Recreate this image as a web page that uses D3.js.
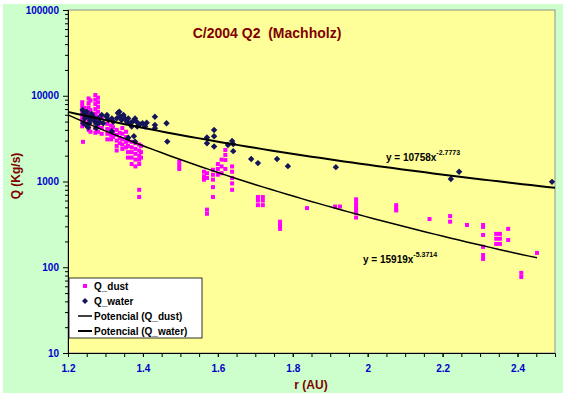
<!DOCTYPE html>
<html>
<head>
<meta charset="utf-8">
<script src="https://cdn.jsdelivr.net/npm/d3@7"></script>
<style>
  body { margin: 0; background: #fff; }
  text { font-family: "Liberation Sans", Arial, sans-serif; font-weight: bold; white-space: pre; }
</style>
</head>
<body>
<script>
// data: [r (AU), Q (Kg/s)]
var dust = [
  [1.238,8400],[1.238,7600],[1.238,6800],[1.238,6100],[1.238,5500],[1.238,4900],[1.238,4400],[1.24,2900],
  [1.244,7200],[1.244,6000],[1.244,5000],
  [1.255,9300],[1.255,8200],[1.255,7300],[1.255,6400],[1.255,5700],[1.255,5000],[1.255,4500],[1.255,4000],
  [1.26,8800],[1.26,6800],[1.26,5300],[1.26,3800],
  [1.273,10200],[1.273,9000],[1.273,8000],[1.273,7000],[1.273,6200],[1.273,5500],[1.273,4800],[1.273,4200],[1.273,3700],
  [1.28,9500],[1.28,8400],[1.28,7400],[1.28,6500],[1.28,5700],[1.28,5000],[1.28,4400],[1.28,3800],
  [1.29,5500],[1.29,4800],[1.29,4200],[1.29,3600],
  [1.305,4700],[1.305,4100],[1.305,3600],[1.305,3100],
  [1.315,4500],[1.315,4000],[1.315,3500],[1.315,3100],
  [1.32,4300],[1.32,3800],[1.32,3300],
  [1.33,4000],[1.33,3500],[1.33,3000],[1.33,2600],[1.33,2300],
  [1.338,3700],[1.338,3200],[1.338,2800],
  [1.345,4200],[1.345,3600],[1.345,3100],[1.345,2700],[1.345,2400],
  [1.355,3800],[1.355,3300],[1.355,2900],[1.355,2500],
  [1.36,3000],[1.36,2600],[1.36,2200],[1.36,1900],
  [1.37,2900],[1.37,2500],[1.37,2200],[1.37,1900],[1.37,1600],
  [1.38,2800],[1.38,2400],[1.38,2100],[1.38,1800],[1.38,1500],
  [1.39,2700],[1.39,2300],[1.39,2000],[1.39,1800],[1.39,1600],[1.39,800],[1.39,660],
  [1.395,2600],[1.395,2200],[1.395,1900],
  [1.497,1700],[1.497,1550],[1.497,1400],
  [1.563,1300],[1.563,1150],[1.563,1050],
  [1.571,1250],[1.571,1100],[1.571,470],[1.571,420],
  [1.587,1370],[1.587,1200],[1.587,1050],[1.587,860],[1.587,660],
  [1.60,1600],[1.60,1400],[1.60,1200],
  [1.61,1800],[1.61,1500],[1.61,1250],
  [1.62,2330],[1.62,2040],[1.62,1780],[1.62,1400],
  [1.638,1500],[1.638,1300],[1.638,1100],[1.638,950],[1.638,800],
  [1.707,660],[1.707,600],[1.707,530],
  [1.72,660],[1.72,600],[1.72,530],
  [1.766,340],[1.766,310],[1.766,280],
  [1.838,490],[1.913,510],[1.926,510],
  [1.969,620],[1.969,560],[1.969,510],[1.969,470],[1.969,430],[1.969,380],
  [2.076,530],[2.076,490],[2.076,460],
  [2.165,365],[2.22,395],[2.22,340],[2.265,311],
  [2.308,311],[2.308,295],[2.308,238],[2.308,173],[2.308,139],[2.308,125],
  [2.343,245],[2.343,215],[2.343,187],
  [2.353,245],[2.353,215],[2.353,187],
  [2.375,280],[2.375,208],
  [2.41,86],[2.41,77],[2.452,147]
];

var water = [
  [1.239,6820],[1.241,6150],[1.245,5440],[1.25,6500],[1.254,5680],[1.259,5210],[1.263,6150],
  [1.268,5680],[1.272,4980],[1.275,4190],[1.254,4260],[1.241,4770],[1.248,4560],[1.281,5440],
  [1.285,4900],[1.29,5960],[1.303,5680],[1.308,5210],[1.317,5440],[1.321,4980],[1.33,5440],
  [1.337,6500],[1.339,5680],[1.343,5210],[1.348,5960],[1.352,5440],[1.357,4980],[1.361,5440],
  [1.366,4770],[1.37,4380],[1.374,5080],[1.379,5440],[1.383,4980],[1.385,4380],[1.392,4640],
  [1.399,4770],[1.406,4380],[1.41,4850],[1.432,5680],[1.432,4560],[1.432,4190],[1.463,4770],
  [1.465,2920],[1.361,3240],[1.376,3380],[1.379,2920],[1.317,3860],[1.294,4770],[1.277,4640],
  [1.333,6300],[1.304,5960],[1.245,6000],[1.262,5600],[1.27,5300],[1.257,4800],
  [1.59,3990],[1.59,3370],[1.571,3260],[1.571,2790],[1.59,2560],[1.627,2670],[1.638,2970],
  [1.641,2730],[1.641,2260],[1.689,1830],[1.707,1640],[1.758,1830],[1.787,1510],[1.915,1470],
  [2.222,1070],[2.244,1300],[2.492,990]
];

// power-law fits shown on the chart: y = a * x^b
var dustFit = [15919, -5.3714];
var waterFit = [10758, -2.7773];

var xTicks = [1.2, 1.4, 1.6, 1.8, 2, 2.2, 2.4];
var yTicks = [10, 100, 1000, 10000, 100000];
var legendItems = ["Q_dust", "Q_water", "Potencial (Q_dust)", "Potencial (Q_water)"];

var width = 566,
    height = 397;

var svg = d3.select("body").append("svg")
    .attr("width", width)
    .attr("height", height);

// chart area + plot area
svg.append("rect")
    .attr("x", 3).attr("y", 4)
    .attr("width", 560).attr("height", 389)
    .attr("fill", "#ccffcc");

var plotL = 68, plotR = 555, plotT = 10, plotB = 353;

svg.append("rect")
    .attr("x", plotL).attr("y", plotT)
    .attr("width", plotR - plotL).attr("height", plotB - plotT)
    .attr("fill", "#ffff99")
    .attr("stroke", "#909090");

var x = d3.scaleLinear().domain([1.2, 2.5]).range([plotL, plotR]);
var y = d3.scaleLog().domain([10, 100000]).range([plotB, plotT]);

// y axis
var yMinor = [];
for (var e = 10; e < 100000; e *= 10) {
  for (var k = 2; k < 10; k++) yMinor.push(e * k);
}
svg.append("g")
    .attr("transform", "translate(" + plotL + ",0)")
    .call(d3.axisLeft(y).tickValues(yMinor).tickSize(3).tickFormat(""))
    .call(function(g) { g.select(".domain").remove(); });

var yAxis = svg.append("g")
    .attr("transform", "translate(" + plotL + ",0)")
    .call(d3.axisLeft(y).tickValues(yTicks).tickSize(5).tickPadding(4).tickFormat(d3.format("d")));
yAxis.select(".domain").attr("stroke", "#000").attr("stroke-width", 1);
yAxis.selectAll("text").attr("fill", "#0000cc").style("font-size", "10px");

// x axis
var xMinor = d3.range(26).map(function(i) { return 1.2 + i * 0.05; });
svg.append("g")
    .attr("transform", "translate(0," + plotB + ")")
    .call(d3.axisBottom(x).tickValues(xMinor).tickSize(4).tickFormat(""))
    .call(function(g) { g.select(".domain").remove(); });

var xAxis = svg.append("g")
    .attr("transform", "translate(0," + plotB + ")")
    .call(d3.axisBottom(x).tickValues(xTicks).tickSize(4).tickPadding(8).tickFormat(d3.format("~g")));
xAxis.select(".domain").attr("stroke", "#000");
xAxis.selectAll("text").attr("fill", "#0000cc").style("font-size", "10px");

// trend lines
function fitLine(fit, r0, r1) {
  var pts = d3.range(0, 61).map(function(i) {
    var r = r0 + (r1 - r0) * i / 60;
    return [r, fit[0] * Math.pow(r, fit[1])];
  });
  return d3.line().x(function(d) { return x(d[0]); }).y(function(d) { return y(d[1]); })(pts);
}

// points
svg.append("g").selectAll("rect")
    .data(dust)
  .enter().append("rect")
    .attr("x", function(d) { return x(d[0]) - 2; })
    .attr("y", function(d) { return y(d[1]) - 2; })
    .attr("width", 4).attr("height", 4)
    .attr("fill", "#ff00ff");

svg.append("g").selectAll("path")
    .data(water)
  .enter().append("path")
    .attr("transform", function(d) { return "translate(" + x(d[0]) + "," + y(d[1]) + ")"; })
    .attr("d", "M0,-3.2L3.2,0L0,3.2L-3.2,0Z")
    .attr("fill", "#14145a");

svg.append("path")
    .attr("d", fitLine(dustFit, 1.2, 2.452))
    .attr("fill", "none").attr("stroke", "#000").attr("stroke-width", 1.5);

svg.append("path")
    .attr("d", fitLine(waterFit, 1.2, 2.5))
    .attr("fill", "none").attr("stroke", "#000").attr("stroke-width", 2);

// equations
var eq1 = svg.append("text").attr("x", 386).attr("y", 161).style("font-size", "10px").attr("fill", "#000");
eq1.append("tspan").text("y = " + waterFit[0] + "x");
eq1.append("tspan").attr("dy", -6).style("font-size", "7px").text(waterFit[1]);

var eq2 = svg.append("text").attr("x", 363).attr("y", 263).style("font-size", "10px").attr("fill", "#000");
eq2.append("tspan").text("y = " + dustFit[0] + "x");
eq2.append("tspan").attr("dy", -6).style("font-size", "7px").text(dustFit[1]);

// titles
svg.append("text")
    .attr("x", 267).attr("y", 38)
    .attr("text-anchor", "middle")
    .attr("fill", "#800000")
    .style("font-size", "14px")
    .text("C/2004 Q2  (Machholz)");

svg.append("text")
    .attr("transform", "translate(20,176) rotate(-90)")
    .attr("text-anchor", "middle")
    .attr("fill", "#800000")
    .style("font-size", "12px")
    .text("Q (Kg/s)");

svg.append("text")
    .attr("x", 311).attr("y", 389)
    .attr("text-anchor", "middle")
    .attr("fill", "#800000")
    .style("font-size", "12px")
    .text("r (AU)");

// legend
var lg = svg.append("g");
lg.append("rect")
    .attr("x", 69).attr("y", 278)
    .attr("width", 133).attr("height", 60)
    .attr("fill", "#fff").attr("stroke", "#000").attr("stroke-width", 0.8);

var row = lg.selectAll("g.item")
    .data(legendItems)
  .enter().append("g")
    .attr("class", "item")
    .attr("transform", function(d, i) { return "translate(0," + (286 + i * 15) + ")"; });

row.append("text")
    .attr("x", 94).attr("dy", "0.35em")
    .style("font-size", "10px")
    .text(function(d) { return d; });

row.filter(function(d, i) { return i === 0; }).append("rect")
    .attr("x", 83).attr("y", -2).attr("width", 4).attr("height", 4).attr("fill", "#ff00ff");
row.filter(function(d, i) { return i === 1; }).append("path")
    .attr("d", "M85,-3L88,0L85,3L82,0Z").attr("fill", "#14145a");
row.filter(function(d, i) { return i > 1; }).append("line")
    .attr("x1", 78).attr("x2", 92)
    .attr("stroke", "#000")
    .attr("stroke-width", function(d, i) { return i === 0 ? 1.5 : 2; });
</script>
</body>
</html>
